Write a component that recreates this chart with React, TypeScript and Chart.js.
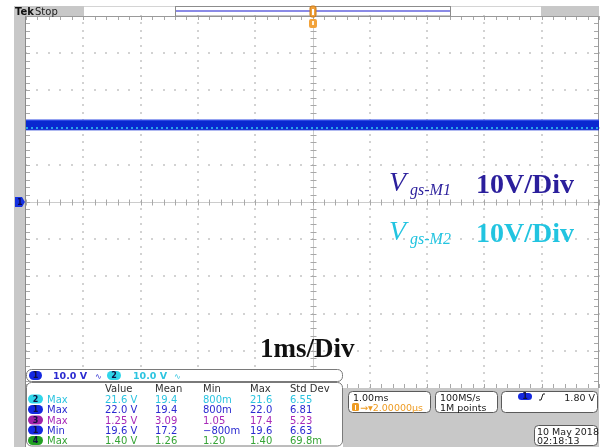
import React, { useEffect, useRef } from 'react';
import { Chart, registerables } from 'chart.js';

Chart.register(...registerables);

// ---- trace data (time in ms, volts) ----
const timeMs = [-5, 5];
const ch1Max = [22.0, 22.0];
const ch1Min = [19.4, 19.4];
const ch2Level = [19.9, 19.9];

// ---- graticule ----
const xDivs = [-5, -4, -3, -2, -1, 0, 1, 2, 3, 4, 5];
const yDivs = [-50, -40, -30, -20, -10, 0, 10, 20, 30, 40, 50];
const minorPerDiv = 5;

// ---- channel bar ----
const chScales = ['10.0 V', '10.0 V'];

// ---- measurement table ----
const measHeaders = ['Value', 'Mean', 'Min', 'Max', 'Std Dev'];
const measSources = ['2', '1', '3', '1', '4'];
const measTypes = ['Max', 'Max', 'Max', 'Min', 'Max'];
const measValue = ['21.6 V', '22.0 V', '1.25 V', '19.6 V', '1.40 V'];
const measMean = ['19.4', '19.4', '3.09', '17.2', '1.26'];
const measMin = ['800m', '800m', '1.05', '\u2212800m', '1.20'];
const measMax = ['21.6', '22.0', '17.4', '19.6', '1.40'];
const measStd = ['6.55', '6.81', '5.23', '6.63', '69.8m'];

// ---- status boxes ----
const timebase = '1.00ms';
const trigPos = '\u2192\u25BE2.00000\u00B5s';
const sampleRate = '100MS/s';
const recordLen = '1M points';
const trigLevel = '1.80 V';
const dateStr = '10 May 2018';
const timeStr = '02:18:13';

// ---- annotations ----
const annotV = 'V';
const annotSub = ['gs-M1', 'gs-M2'];
const annotScale = '10V/Div';
const annotTime = '1ms/Div';

const SANS = '"DejaVu Sans", sans-serif';
const SERIF = '"Liberation Serif", "Times New Roman", serif';

const chColor: Record<string, string> = { '1': '#2a2ad0', '2': '#2cc4e0', '3': '#a82ab8', '4': '#36a436' };
const chFill: Record<string, string> = { '1': '#1428e0', '2': '#30d6ea', '3': '#a020a8', '4': '#22a022' };

function rrect(ctx: CanvasRenderingContext2D, x: number, y: number, w: number, h: number, r: number) {
  ctx.beginPath();
  ctx.moveTo(x + r, y);
  ctx.lineTo(x + w - r, y);
  ctx.arcTo(x + w, y, x + w, y + r, r);
  ctx.lineTo(x + w, y + h - r);
  ctx.arcTo(x + w, y + h, x + w - r, y + h, r);
  ctx.lineTo(x + r, y + h);
  ctx.arcTo(x, y + h, x, y + h - r, r);
  ctx.lineTo(x, y + r);
  ctx.arcTo(x, y, x + r, y, r);
  ctx.closePath();
}

function pill(ctx: CanvasRenderingContext2D, x: number, y: number, w: number, h: number, ch: string) {
  rrect(ctx, x, y, w, h, h / 2);
  ctx.fillStyle = chFill[ch];
  ctx.fill();
  ctx.fillStyle = '#101040';
  ctx.font = `bold 8px ${SANS}`;
  ctx.textAlign = 'center';
  ctx.textBaseline = 'middle';
  ctx.fillText(ch, x + w / 2, y + h / 2 + 0.5);
  ctx.textAlign = 'left';
  ctx.textBaseline = 'alphabetic';
}

function box(ctx: CanvasRenderingContext2D, x: number, y: number, w: number, h: number, r: number, stroke = '#707070') {
  rrect(ctx, x, y, w, h, r);
  ctx.fillStyle = '#ffffff';
  ctx.fill();
  ctx.strokeStyle = stroke;
  ctx.lineWidth = 1;
  ctx.stroke();
}

const graticule = {
  id: 'graticule',
  beforeDatasetsDraw(chart: any) {
    const { ctx, chartArea: a } = chart;
    const xs = chart.scales.x;
    const ys = chart.scales.y;
    ctx.save();
    const xMinor: number[] = [];
    for (let i = 0; i < xDivs.length - 1; i++) {
      for (let k = 0; k < minorPerDiv; k++) {
        xMinor.push(xs.getPixelForValue(xDivs[i] + ((xDivs[i + 1] - xDivs[i]) * k) / minorPerDiv));
      }
    }
    xMinor.push(xs.getPixelForValue(xDivs[xDivs.length - 1]));
    const yMinor: number[] = [];
    for (let i = 0; i < yDivs.length - 1; i++) {
      for (let k = 0; k < minorPerDiv; k++) {
        yMinor.push(ys.getPixelForValue(yDivs[i] + ((yDivs[i + 1] - yDivs[i]) * k) / minorPerDiv));
      }
    }
    yMinor.push(ys.getPixelForValue(yDivs[yDivs.length - 1]));

    // dotted major lines
    ctx.fillStyle = '#d2d2d2';
    xDivs.slice(1, -1).forEach((v) => {
      if (v === 0) return;
      const px = Math.round(xs.getPixelForValue(v));
      yMinor.forEach((py) => ctx.fillRect(px - 1, Math.round(py) - 1, 2, 2));
    });
    yDivs.slice(1, -1).forEach((v) => {
      if (v === 0) return;
      const py = Math.round(ys.getPixelForValue(v));
      xMinor.forEach((px) => ctx.fillRect(Math.round(px) - 1, py - 1, 2, 2));
    });

    // center crosshair
    const cx = Math.round(xs.getPixelForValue(0)) + 0.5;
    const cy = Math.round(ys.getPixelForValue(0)) + 0.5;
    ctx.strokeStyle = '#cccccc';
    ctx.lineWidth = 1;
    ctx.beginPath();
    ctx.moveTo(cx, a.top);
    ctx.lineTo(cx, a.bottom);
    ctx.moveTo(a.left, cy);
    ctx.lineTo(a.right, cy);
    ctx.stroke();
    ctx.strokeStyle = '#a8a8a8';
    ctx.beginPath();
    yMinor.forEach((py) => {
      const y = Math.round(py) + 0.5;
      ctx.moveTo(cx - 3, y);
      ctx.lineTo(cx + 3, y);
      ctx.moveTo(a.left, y);
      ctx.lineTo(a.left + 4, y);
      ctx.moveTo(a.right - 1, y);
      ctx.lineTo(a.right - 5, y);
    });
    xMinor.forEach((px) => {
      const x = Math.round(px) + 0.5;
      ctx.moveTo(x, cy - 3);
      ctx.lineTo(x, cy + 3);
      ctx.moveTo(x, a.top);
      ctx.lineTo(x, a.top + 4);
      ctx.moveTo(x, a.bottom);
      ctx.lineTo(x, a.bottom - 4);
    });
    ctx.stroke();

    // frame
    ctx.strokeStyle = '#9a9a9a';
    ctx.beginPath();
    ctx.moveTo(a.left, a.top + 0.5);
    ctx.lineTo(a.right, a.top + 0.5);
    ctx.moveTo(a.right - 0.5, a.top);
    ctx.lineTo(a.right - 0.5, a.bottom);
    ctx.stroke();
    ctx.restore();
  },
};

const chrome = {
  id: 'chrome',
  afterDraw(chart: any) {
    const { ctx, chartArea: a } = chart;
    const ys = chart.scales.y;
    const xs = chart.scales.x;
    ctx.save();
    ctx.textAlign = 'left';
    ctx.textBaseline = 'alphabetic';

    // annotations
    const rows = [
      { color: '#2b1f9c', base: 191 },
      { color: '#22c4e0', base: 240 },
    ];
    rows.forEach((r, i) => {
      ctx.fillStyle = r.color;
      ctx.font = `italic 28px ${SERIF}`;
      ctx.fillText(annotV, 389, r.base);
      ctx.font = `italic 16px ${SERIF}`;
      ctx.fillText(annotSub[i], 410, r.base + 4);
      ctx.font = `bold 28px ${SERIF}`;
      ctx.fillText(annotScale, 476, r.base + 2);
    });
    ctx.fillStyle = '#111111';
    ctx.font = `bold 27px ${SERIF}`;
    ctx.fillText(annotTime, 260, 357);

    // left gray strip
    ctx.fillStyle = '#c8c8c8';
    ctx.fillRect(14, a.top, a.left - 14, 447 - a.top);
    ctx.fillStyle = '#8a8a8a';
    ctx.fillRect(a.left - 1, a.top, 1, 447 - a.top);

    // channel 1 ground marker
    const gy = Math.round(ys.getPixelForValue(0));
    ctx.beginPath();
    ctx.moveTo(15, gy - 5);
    ctx.lineTo(22, gy - 5);
    ctx.lineTo(25, gy);
    ctx.lineTo(22, gy + 5);
    ctx.lineTo(15, gy + 5);
    ctx.closePath();
    ctx.fillStyle = '#1430e0';
    ctx.fill();
    ctx.fillStyle = '#0a0a50';
    ctx.font = `bold 8px ${SANS}`;
    ctx.fillText('1', 17, gy + 3);

    // top bar
    ctx.fillStyle = '#c8c8c8';
    ctx.fillRect(14, 6, 70, a.top - 6);
    ctx.fillRect(541, 6, a.right - 541, a.top - 6);
    ctx.fillStyle = '#101010';
    ctx.font = `bold 10px ${SANS}`;
    ctx.fillText('Tek', 15, 15);
    ctx.font = `10px ${SANS}`;
    ctx.fillStyle = '#202020';
    ctx.fillText('Stop', 35, 15);
    ctx.strokeStyle = '#d4d4d4';
    ctx.beginPath();
    ctx.moveTo(84, 6.5);
    ctx.lineTo(541, 6.5);
    ctx.stroke();
    ctx.strokeStyle = '#8c8c8c';
    ctx.strokeRect(175.5, 6.5, 275, 9.5);
    ctx.fillStyle = '#8a8ae6';
    ctx.fillRect(176, 10, 274, 2);

    // trigger position markers
    const tx = Math.round(xs.getPixelForValue(0));
    ctx.fillStyle = '#f2a23a';
    rrect(ctx, tx - 3, 6, 6, 11, 2);
    ctx.fill();
    ctx.strokeStyle = '#c87818';
    ctx.stroke();
    ctx.fillStyle = '#ffffff';
    ctx.fillRect(tx - 1, 9, 2, 6);
    ctx.fillStyle = '#f2a23a';
    rrect(ctx, tx - 4, 19, 8, 9, 2);
    ctx.fill();
    ctx.fillStyle = '#fff2dc';
    ctx.fillRect(tx - 1, 21, 2, 4);

    // bottom right gray
    ctx.fillStyle = '#c8c8c8';
    ctx.fillRect(343, a.bottom, a.right - 343, 447 - a.bottom);

    // channel bar
    box(ctx, 26.5, 369.5, 316, 12, 5, '#7a7a7a');
    pill(ctx, 29, 371, 13, 9, '1');
    ctx.font = `bold 9.5px ${SANS}`;
    ctx.fillStyle = chColor['1'];
    ctx.fillText(chScales[0], 53, 379);
    ctx.font = `8px ${SANS}`;
    ctx.fillText('\u223F', 95, 379);
    pill(ctx, 107, 371, 14, 9, '2');
    ctx.font = `bold 9.5px ${SANS}`;
    ctx.fillStyle = chColor['2'];
    ctx.fillText(chScales[1], 133, 379);
    ctx.font = `8px ${SANS}`;
    ctx.fillText('\u223F', 174, 379);

    // measurement table
    box(ctx, 26.5, 382.5, 316, 63.5, 5, '#7a7a7a');
    const colX = [105, 155, 203, 250, 290];
    ctx.font = `10px ${SANS}`;
    ctx.fillStyle = '#303030';
    measHeaders.forEach((h, i) => ctx.fillText(h, colX[i], 392));
    const rowBase = [402.5, 413, 423.5, 433.5, 444];
    measSources.forEach((src, r) => {
      const b = rowBase[r];
      pill(ctx, 28, b - 8, 15, 9, src);
      ctx.font = `10px ${SANS}`;
      ctx.fillStyle = chColor[src];
      ctx.fillText(measTypes[r], 47, b);
      const cols = [measValue[r], measMean[r], measMin[r], measMax[r], measStd[r]];
      cols.forEach((c, i) => ctx.fillText(c, colX[i], b));
    });

    // timebase box
    box(ctx, 348.5, 391.5, 82, 21, 4, '#5a5a5a');
    ctx.font = `9.5px ${SANS}`;
    ctx.fillStyle = '#202020';
    ctx.fillText(timebase, 353, 401);
    ctx.fillStyle = '#ee9c24';
    rrect(ctx, 352, 403, 7, 8, 1.5);
    ctx.fill();
    ctx.fillStyle = '#ffffff';
    ctx.fillRect(355, 405, 1, 5);
    ctx.fillStyle = '#ee9c24';
    ctx.font = `9.5px ${SANS}`;
    ctx.fillText(trigPos, 360, 410.5);

    // sample box
    box(ctx, 435.5, 391.5, 62, 21, 4, '#5a5a5a');
    ctx.fillStyle = '#202020';
    ctx.fillText(sampleRate, 440, 401);
    ctx.fillText(recordLen, 440, 410.5);

    // trigger box
    box(ctx, 501.5, 391.5, 96, 21, 4, '#5a5a5a');
    pill(ctx, 518, 393, 14, 7, '1');
    ctx.strokeStyle = '#202020';
    ctx.lineWidth = 1;
    ctx.beginPath();
    ctx.moveTo(539, 400);
    ctx.lineTo(541, 400);
    ctx.lineTo(543, 394);
    ctx.lineTo(545, 394);
    ctx.stroke();
    ctx.fillStyle = '#202020';
    ctx.font = `9.5px ${SANS}`;
    ctx.textAlign = 'right';
    ctx.fillText(trigLevel, 595, 400.5);
    ctx.textAlign = 'left';

    // date box
    box(ctx, 534.5, 425.5, 63, 20, 4, '#5a5a5a');
    ctx.fillStyle = '#202020';
    ctx.font = `9.5px ${SANS}`;
    ctx.fillText(dateStr, 537, 434.5);
    ctx.fillText(timeStr, 537, 443.5);

    ctx.restore();
  },
};

export default function App() {
  const ref = useRef<HTMLCanvasElement>(null);
  useEffect(() => {
    const pts = (vals: number[]) => timeMs.map((t, i) => ({ x: t, y: vals[i] }));
    const chart = new Chart(ref.current as HTMLCanvasElement, {
      type: 'line',
      data: {
        datasets: [
          {
            label: 'Ch2',
            data: pts(ch2Level),
            borderColor: '#34d4ee',
            borderWidth: 1.5,
            borderDash: [2, 3],
            pointRadius: 0,
            fill: false,
          },
          {
            label: 'Ch1 max',
            data: pts(ch1Max),
            borderColor: '#2c48e4',
            borderWidth: 1.5,
            pointRadius: 0,
            backgroundColor: '#0a28d0',
            fill: '+1',
          },
          {
            label: 'Ch1 min',
            data: pts(ch1Min),
            borderColor: '#0a28d0',
            borderWidth: 1,
            pointRadius: 0,
            fill: false,
          },
        ],
      },
      options: {
        animation: false,
        responsive: false,
        devicePixelRatio: 1,
        layout: { padding: { left: 26, top: 16, right: 6, bottom: 59 } },
        scales: {
          x: { type: 'linear', min: -5, max: 5, display: false },
          y: { type: 'linear', min: -50, max: 50, display: false },
        },
        plugins: { legend: { display: false }, tooltip: { enabled: false } },
      },
      plugins: [graticule, chrome],
    });
    return () => chart.destroy();
  }, []);
  return (
    <div style={{ position: 'fixed', left: 0, top: 0, width: 605, height: 447, background: '#ffffff', overflow: 'hidden' }}>
      <canvas ref={ref} width={605} height={447} style={{ display: 'block', width: 605, height: 447 }} />
    </div>
  );
}
